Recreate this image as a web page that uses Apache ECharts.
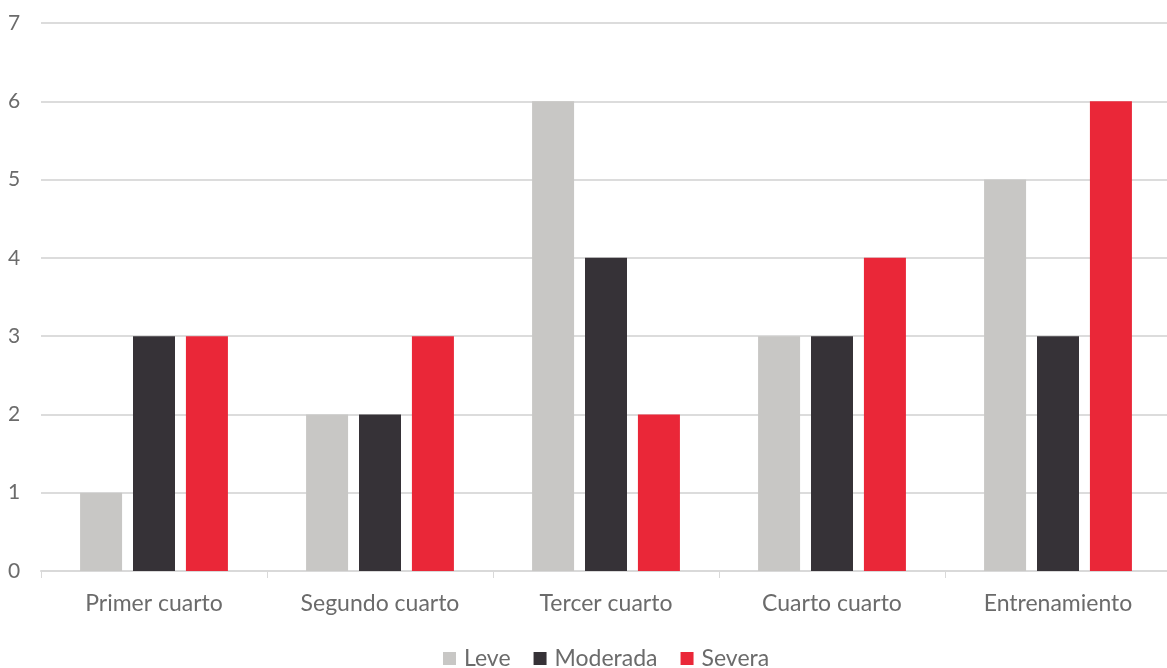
<!DOCTYPE html>
<html>
<head>
<meta charset="utf-8">
<script src="https://cdn.jsdelivr.net/npm/echarts@6/dist/echarts.min.js"></script>
<style>
  html, body { margin: 0; padding: 0; background: #ffffff; overflow: hidden; }
  #chart { width: 1171px; height: 668px; }
</style>
</head>
<body>
<div id="chart"></div>
<script>
// Categories and counts per severity level
const categories = ['Primer cuarto', 'Segundo cuarto', 'Tercer cuarto', 'Cuarto cuarto', 'Entrenamiento'];
const leve = [1, 2, 6, 3, 5];
const moderada = [3, 2, 4, 3, 3];
const severa = [3, 3, 2, 4, 6];
const yTicks = [0, 1, 2, 3, 4, 5, 6, 7];

const font = 'Lato, "Open Sans", sans-serif';
const chart = echarts.init(document.getElementById('chart'));

function bar(name, data, color) {
  return {
    name: name,
    type: 'bar',
    data: data,
    barWidth: 42,
    barGap: '26%',
    itemStyle: { color: color },
    emphasis: { disabled: true }
  };
}

chart.setOption({
  animation: false,
  backgroundColor: '#ffffff',
  grid: { left: 41, right: 0, top: 23, bottom: 97, containLabel: false },
  legend: {
    bottom: -7,
    left: 438,
    itemWidth: 13,
    itemHeight: 13,
    itemGap: 23,
    icon: 'rect',
    textStyle: { color: '#6b6b6b', fontSize: 23, fontFamily: font, padding: [0, 0, 0, 3] },
    data: ['Leve', 'Moderada', 'Severa']
  },
  xAxis: {
    type: 'category',
    data: categories,
    axisLine: { lineStyle: { color: '#d9d9d9', width: 2 } },
    axisTick: { show: true, length: 7, lineStyle: { color: '#d9d9d9', width: 1 } },
    axisLabel: { color: '#6b6b6b', fontSize: 23, fontFamily: font, margin: 21 }
  },
  yAxis: {
    type: 'value',
    min: yTicks[0],
    max: yTicks[yTicks.length - 1],
    interval: 1,
    axisLine: { show: false },
    axisTick: { show: false },
    axisLabel: { color: '#6b6b6b', fontSize: 21, fontFamily: font, margin: 27, align: 'center' },
    splitLine: { lineStyle: { color: '#dcdcdc', width: 2 } }
  },
  series: [
    bar('Leve', leve, '#c8c7c5'),
    bar('Moderada', moderada, '#363237'),
    bar('Severa', severa, '#ea2738')
  ]
});
</script>
</body>
</html>
